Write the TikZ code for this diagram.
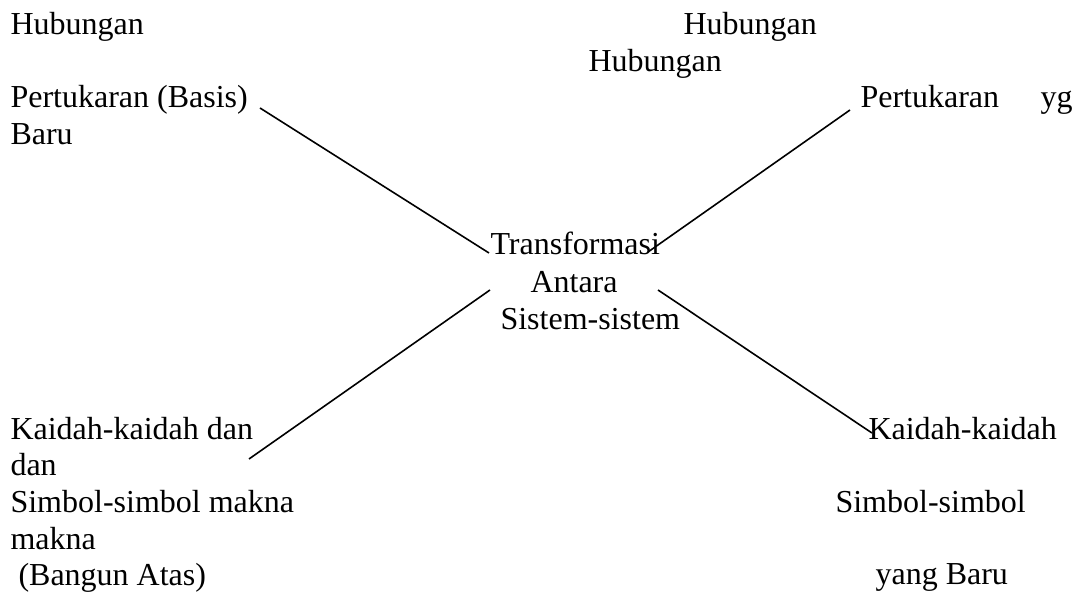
\documentclass[tikz,border=0pt]{standalone}
\usepackage{fontspec}
\setmainfont{Liberation Serif}
\usetikzlibrary{calc}

\begin{document}
\begin{tikzpicture}[x=0.375pt,y=-0.375pt,
		teks/.style={anchor=base west,inner sep=0pt,font=\fontsize{12}{13.8}\selectfont},
		garis/.style={line width=0.6pt}]
			\useasboundingbox (0,0) rectangle (1075,593);
			\begin{scope}
				% kiri atas
				\node[teks] (hubKiri) at (10,35) {Hubungan};
				\node[teks] (tukarKiri) at (10,108) {Pertukaran (Basis)};
				\node[teks] (baruKiri) at (10,145) {Baru};
				% kanan atas
				\node[teks] (hubKanan) at (683,35) {Hubungan};
				\node[teks] (hubTengah) at (588,72) {Hubungan};
				\node[teks] (tukarKanan) at (860,108) {Pertukaran};
				\node[teks] (ygKanan) at (1040,108) {yg};
				% tengah
				\node[teks] (trans) at (490,255) {Transformasi};
				\node[teks] (antara) at (530,293) {Antara};
				\node[teks] (sistem) at (500,330) {Sistem-sistem};
				% kiri bawah
				\node[teks] (kaidahKiri) at (10,440) {Kaidah-kaidah dan};
				\node[teks] (danKiri) at (10,476) {dan};
				\node[teks] (simbolKiri) at (10,513) {Simbol-simbol makna};
				\node[teks] (maknaKiri) at (10,550) {makna};
				\node[teks] (bangunKiri) at (10,586) {\ (Bangun Atas)};
				% kanan bawah
				\node[teks] (kaidahKanan) at (868,440) {Kaidah-kaidah};
				\node[teks] (simbolKanan) at (835,513) {Simbol-simbol};
				\node[teks] (baruKanan) at (875,585) {yang Baru};

				\coordinate (ujungA) at (260,108);
				\coordinate (ujungB) at (850,110);
				\coordinate (ujungC) at (249,459);
				\coordinate (ujungD) at (872,433);
				\coordinate (pusatA) at ($(trans.base west)+(-1,-2)$);
				\coordinate (pusatB) at (648,252);
				\coordinate (pusatC) at (490,290);
				\coordinate (pusatD) at (658,290);

				\draw[garis] (ujungA) to (pusatA);
				\draw[garis] (ujungB) to (pusatB);
				\draw[garis] (ujungC) to (pusatC);
				\draw[garis] (ujungD) to (pusatD);
			\end{scope}
		\end{tikzpicture}
\end{document}
